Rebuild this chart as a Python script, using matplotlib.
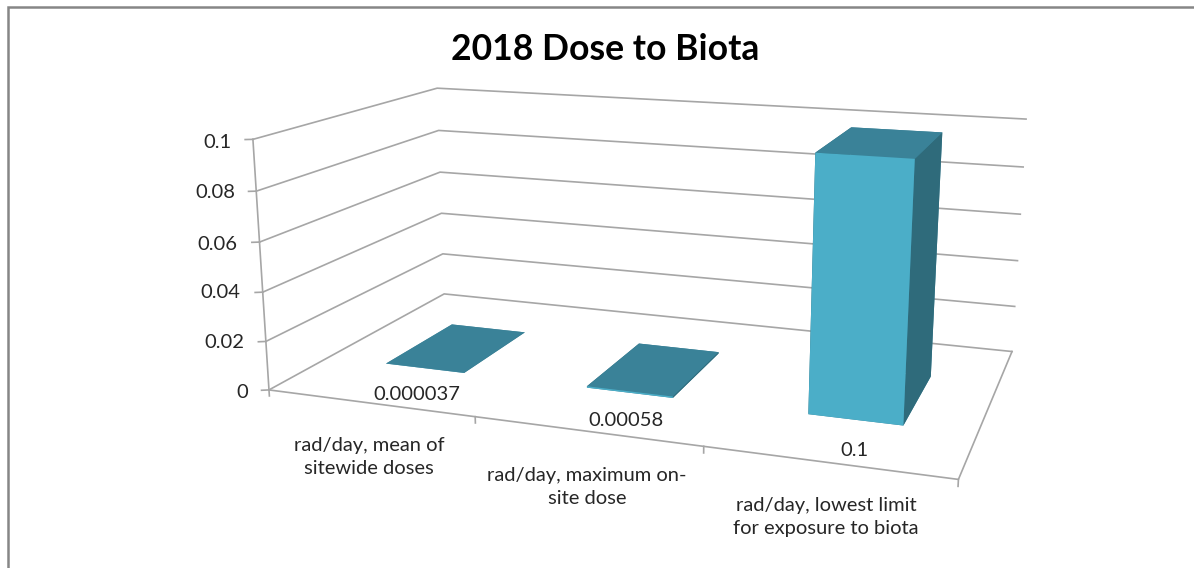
import numpy as np
import matplotlib
matplotlib.use("Agg")
import matplotlib.pyplot as plt
from matplotlib.lines import Line2D

W, H = 1194, 568

categories = ["rad/day, mean of\nsitewide doses",
              "rad/day, maximum on-\nsite dose",
              "rad/day, lowest limit\nfor exposure to biota"]
doses = [0.000037, 0.00058, 0.1]
z_ticks = [0, 0.02, 0.04, 0.06, 0.08, 0.1]
z_tick_labels = ["0", "0.02", "0.04", "0.06", "0.08", "0.1"]

# pixel anchors for the text, (x, y) from the top left
z_label_right = [248, 244, 240, 237, 235, 232]
z_label_y = [392, 343, 293, 244, 193, 142]
value_label_pos = [(417, 394), (626, 420), (854, 450)]
category_label_pos = [(369, 457), (587, 487), (826, 517)]

GRID = "#a6a6a6"
FRONT, TOP, SIDE = "#4baec8", "#3a8298", "#2f6b7b"
FONT_SIZE = 14.5

plt.rcParams["font.family"] = ["Lato", "DejaVu Sans"]

fig = plt.figure(figsize=(W / 100, H / 100), dpi=100, facecolor="white")
side = 782.5
ax = fig.add_axes([253.3 / W, -85.6 / H, side / W, side / H], projection="3d")
ax.computed_zorder = False
ax.set_axis_off()
ax.set_xlim(0, 3)
ax.set_ylim(0, 1)
ax.set_zlim(0, 0.1)
ax.view_init(elev=14.023, azim=-70.415, roll=-0.046)
ax.set_proj_type("persp", focal_length=0.3592)
ax.set_box_aspect((2.7, 1.4945, 1))


def seg(xs, ys, zs):
    ax.plot(xs, ys, zs, color=GRID, lw=1.2, clip_on=False, zorder=1)


# gridlines on the left and back walls, with their ticks
for z in z_ticks:
    seg([0, 0, 3], [0, 1, 1], [z, z, z])
    seg([-0.028, 0], [-0.009, 0], [z, z])

# floor outline and the vertical axis
seg([0, 3, 3], [0, 0, 1], [0, 0, 0])
seg([0, 0], [0, 0], [0, 0.1])

# category ticks hang below the front edge
for x in range(len(categories) + 1):
    seg([x, x], [0, 0], [0, -0.0025])

# Poly order in bar3d is -z, +z, -y, +y, -x, +x
centers = np.arange(len(doses)) + 0.5
ax.bar3d(centers - 0.2, np.full(len(doses), 0.3), np.zeros(len(doses)),
         0.4, 0.4, doses, shade=False, zorder=3,
         color=[TOP, TOP, FRONT, TOP, SIDE, SIDE] * len(doses))

for (px, py), d in zip(value_label_pos, doses):
    fig.text(px / W, 1 - py / H, np.format_float_positional(d), ha="center",
             va="center", fontsize=FONT_SIZE, color="#262626")

for right, py, lab in zip(z_label_right, z_label_y, z_tick_labels):
    fig.text(right / W, 1 - py / H, lab, ha="right", va="center",
             fontsize=FONT_SIZE, color="#262626")

for (px, py), cat in zip(category_label_pos, categories):
    fig.text(px / W, 1 - py / H, cat, ha="center", va="center",
             fontsize=FONT_SIZE, color="#262626", linespacing=1.45)

fig.text(605.5 / W, 1 - 50 / H, "2018 Dose to Biota", ha="center", va="center",
         fontsize=25.6, fontweight="bold", color="black")

# chart frame, open on the right and at the bottom
fig.add_artist(Line2D([8 / W, 8 / W, 1], [0, 1 - 7 / H, 1 - 7 / H],
                      color="#868686", lw=1.8, solid_joinstyle="miter"))

fig.savefig("out.png", dpi=100)
